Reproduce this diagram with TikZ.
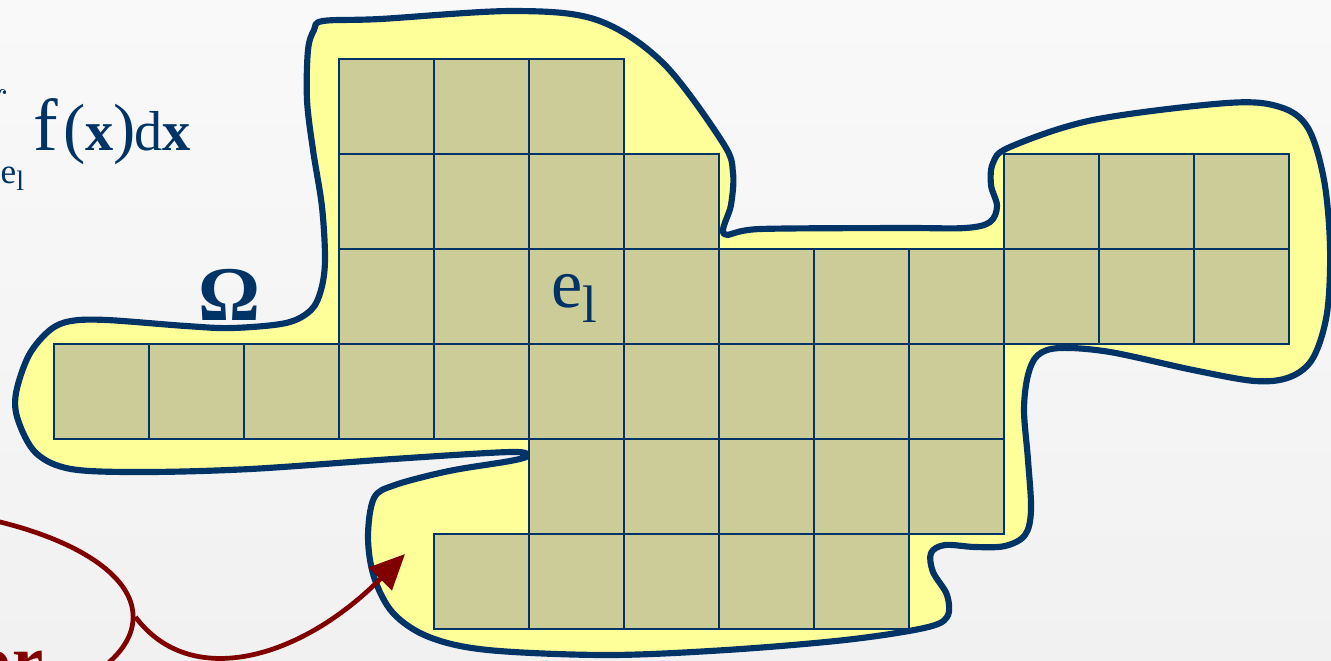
\documentclass[tikz,border=0pt]{standalone}
\usepackage{fontspec}
\setmainfont{Liberation Serif}
\usepackage{xcolor}
\usepackage{tikz}
\usetikzlibrary{arrows.meta,shapes.geometric}
\definecolor{navy}{HTML}{003366}
\definecolor{blobfill}{HTML}{FFFF99}
\definecolor{cellfill}{HTML}{CCCC99}
\definecolor{darkred}{HTML}{800000}
\definecolor{bgtop}{HTML}{F9F9F9}
\definecolor{bgbottom}{HTML}{F1F1F1}
\tikzset{
  cellbox/.style={fill=cellfill, draw=navy, line width=0.6pt},
  domainline/.style={fill=blobfill, draw=navy, line width=1.75pt, line join=round},
  redline/.style={draw=darkred, line width=1.35pt}
}

\begin{document}
\begin{tikzpicture}[x=0.01cm, y=-0.01cm]
\useasboundingbox (0,0) rectangle (1331,660);

% Background
\shade[top color=bgtop, bottom color=bgbottom] (0,0) rectangle (1331,660);

% Domain Omega
\path[domainline] plot[smooth cycle, tension=0.55] coordinates {
  (323,21) (380,19) (513,11) (597,20) (663,63) (723,143) (733,173) (731,205) (724,234)
  (760,229) (900,228) (965,228) (990,222) (997,206) (991,185) (993,163) (1010,147)
  (1093,120) (1227,103) (1280,107) (1308,128) (1324,180) (1330,247) (1327,313)
  (1313,358) (1290,377) (1255,381) (1193,370) (1110,352) (1060,348) (1038,355)
  (1028,375) (1024,410) (1028,460) (1031,510) (1025,535) (1005,546) (975,547)
  (945,545) (931,553) (933,572) (947,595) (947,617) (924,628) (845,640) (726,650)
  (607,655) (488,650) (429,637) (393,613) (374,577) (368,537) (374,498) (395,485)
  (449,471) (510,461) (527,456) (510,452) (393,459) (250,469) (143,472) (71,469)
  (36,453) (18,420) (16,393) (29,355) (50,330) (71,321) (107,320) (186,326)
  (232,328) (286,323) (311,310) (321,290) (325,260) (322,207) (313,150) (307,100)
  (308,50) (314,30)};

% Mesh of elements
\def\cell{95}
\begin{scope}[shift={(54,59)}]
% Row 1
\foreach \c in {3,...,5} \path[cellbox] (\c*\cell,0) rectangle ++(\cell,\cell);
% Row 2
\foreach \c in {3,...,6,10,11,12} \path[cellbox] (\c*\cell,\cell) rectangle ++(\cell,\cell);
% Row 3
\foreach \c in {3,...,12} \path[cellbox] (\c*\cell,2*\cell) rectangle ++(\cell,\cell);
% Row 4
\foreach \c in {0,...,9} \path[cellbox] (\c*\cell,3*\cell) rectangle ++(\cell,\cell);
% Row 5
\foreach \c in {5,...,9} \path[cellbox] (\c*\cell,4*\cell) rectangle ++(\cell,\cell);
% Row 6
\foreach \c in {4,...,8} \path[cellbox] (\c*\cell,5*\cell) rectangle ++(\cell,\cell);
\end{scope}

% Labels
\node[anchor=base, inner sep=0, font=\fontsize{22}{26}\selectfont\bfseries\color{navy}] (omegalbl) at (229,320) {Ω};
\node[anchor=base west, inner sep=0, font=\fontsize{20}{24}\selectfont\color{navy}] (elbl) at (551,307) {e\raisebox{-4.3pt}{\fontsize{15}{18}\selectfont l}};

% Element integral (cut at the left edge)
\node[anchor=north east, inner sep=0, font=\fontsize{22}{26}\selectfont\color{navy}] (intsign) at (9,89) {$\displaystyle\int$};
\node[anchor=base west, inner sep=0, font=\fontsize{10}{12}\selectfont\color{navy}] (intsub) at (0,183) {e\raisebox{-2pt}{\fontsize{8}{10}\selectfont l}};
\node[anchor=base west, inner sep=0, font=\color{navy}] (integrand) at (33,150)
  {{\fontsize{21}{26}\selectfont f}\kern1.5pt{\fontsize{19}{23}\selectfont(}{\fontsize{16}{20}\selectfont\bfseries x}{\fontsize{19}{23}\selectfont)}\kern-0.5pt{\fontsize{16}{20}\selectfont d\textbf{x}}};

% Callout
\node[anchor=base east, inner sep=0, font=\fontsize{20}{24}\selectfont\bfseries\color{darkred}] (ortxt) at (44,684) {or};
\node[ellipse, redline, minimum width=5.66cm, minimum height=2.24cm] (orbox) at (-150,617) {};
\coordinate (tgt) at (405,554);
\draw[redline, -{Triangle[length=10pt, width=9pt]}] (orbox.east) .. controls (190,690) and (300,660) .. (tgt);

\end{tikzpicture}
\end{document}
